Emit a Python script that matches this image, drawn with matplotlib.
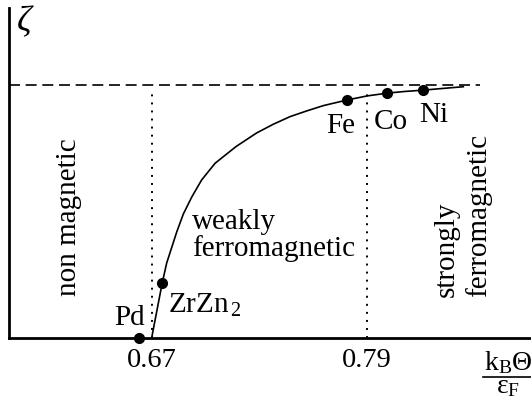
import matplotlib
matplotlib.use("Agg")
import matplotlib.pyplot as plt

plt.rcParams['font.family'] = ['Liberation Serif', 'DejaVu Serif']
plt.rcParams['mathtext.fontset'] = 'custom'
plt.rcParams['mathtext.rm'] = 'Liberation Serif'
plt.rcParams['mathtext.it'] = 'Liberation Serif:italic'
plt.rcParams['lines.scale_dashes'] = False

# Data
curve_x = [0.6698, 0.6728, 0.6757, 0.6782, 0.6838, 0.6875, 0.6922, 0.6977,
           0.7052, 0.7169, 0.7284, 0.7377, 0.7470, 0.7563, 0.7656, 0.7790,
           0.7900, 0.8013, 0.8112, 0.8214, 0.8324, 0.8437]
curve_y = [0.0, 0.1107, 0.2174, 0.2964, 0.4190, 0.4901, 0.5573, 0.6245,
           0.6905, 0.7565, 0.8103, 0.8447, 0.8747, 0.8972, 0.9182, 0.9407,
           0.9565, 0.9676, 0.9743, 0.9794, 0.9862, 0.9929]
materials = ['Pd', 'ZrZn$_{\\,2}$', 'Fe', 'Co', 'Ni']
mat_x = [0.6627, 0.6757, 0.7790, 0.8013, 0.8214]
mat_y = [0.0, 0.2174, 0.9407, 0.9676, 0.9794]
boundaries = [0.67, 0.79]
tick_labels = ['0.67', '0.79']
saturation = 1.0

W, H = 531, 403
fig = plt.figure(figsize=(W / 100, H / 100), dpi=100)
ax = fig.add_axes([9 / W, (H - 338) / H, 1 - 9 / W, (338 - 8) / H])
ax.set_xlim(0.5902, 0.8815)
ax.set_ylim(0, 1.304)

for s in ['top', 'right']:
    ax.spines[s].set_visible(False)
for s in ['left', 'bottom']:
    ax.spines[s].set_linewidth(2.0)

ax.set_yticks([])
ax.set_xticks(boundaries)
ax.set_xticklabels(tick_labels, fontsize=20.5)
ax.tick_params(axis='x', length=0, pad=7)

# saturation line
ax.plot([0.5902, 0.8531], [saturation, saturation], color='black', lw=1.2,
        linestyle=(0, (7.9, 4.1)))
# boundaries
for b in boundaries:
    ax.plot([b, b], [0, 0.984], color='black', lw=1.4,
            linestyle=(0, (1.4, 4.4)))
# curve
ax.plot(curve_x, curve_y, color='black', lw=1.2, solid_joinstyle='round')
ax.plot(mat_x, mat_y, 'o', color='black', ms=7, clip_on=False, zorder=5)

offsets = [(6, 13, 'right'), (6, -30, 'left'), (-7, -33, 'center'),
           (4, -36, 'center'), (10, -32, 'center')]
for name, x, y, (dx, dy, ha) in zip(materials, mat_x, mat_y, offsets):
    ax.annotate(name, (x, y), xytext=(dx, dy), textcoords='offset pixels',
                ha=ha, va='baseline', fontsize=21)

fs = 21
def fx(px):
    return px / W
def fy(py):
    return (H - py) / H

fig.text(fx(69), fy(217), 'non magnetic', rotation=90, ha='center',
         va='center', fontsize=fs)
fig.text(fx(192), fy(229), 'weakly', ha='left', va='baseline', fontsize=fs)
fig.text(fx(192), fy(256), 'ferromagnetic', ha='left', va='baseline', fontsize=fs)
fig.text(fx(454), fy(297), 'strongly', rotation=90, rotation_mode='anchor',
         ha='left', va='baseline', fontsize=fs)
fig.text(fx(486), fy(297), 'ferromagnetic', rotation=90, rotation_mode='anchor',
         ha='left', va='baseline', fontsize=fs)

# y label
fig.text(fx(17), fy(31), 'ζ', ha='left', va='baseline', fontsize=26,
         style='italic')

# x label as fraction
fig.text(fx(508), fy(370), r'$\mathrm{k_B\Theta}$', ha='center',
         va='baseline', fontsize=20)
fig.add_artist(plt.Line2D([fx(483), fx(531)], [fy(377), fy(377)],
                          color='black', lw=1.2, transform=fig.transFigure))
fig.text(fx(508), fy(393), r'$\mathrm{ε_F}$', ha='center', va='baseline',
         fontsize=20)

fig.savefig('out.png', dpi=100)
